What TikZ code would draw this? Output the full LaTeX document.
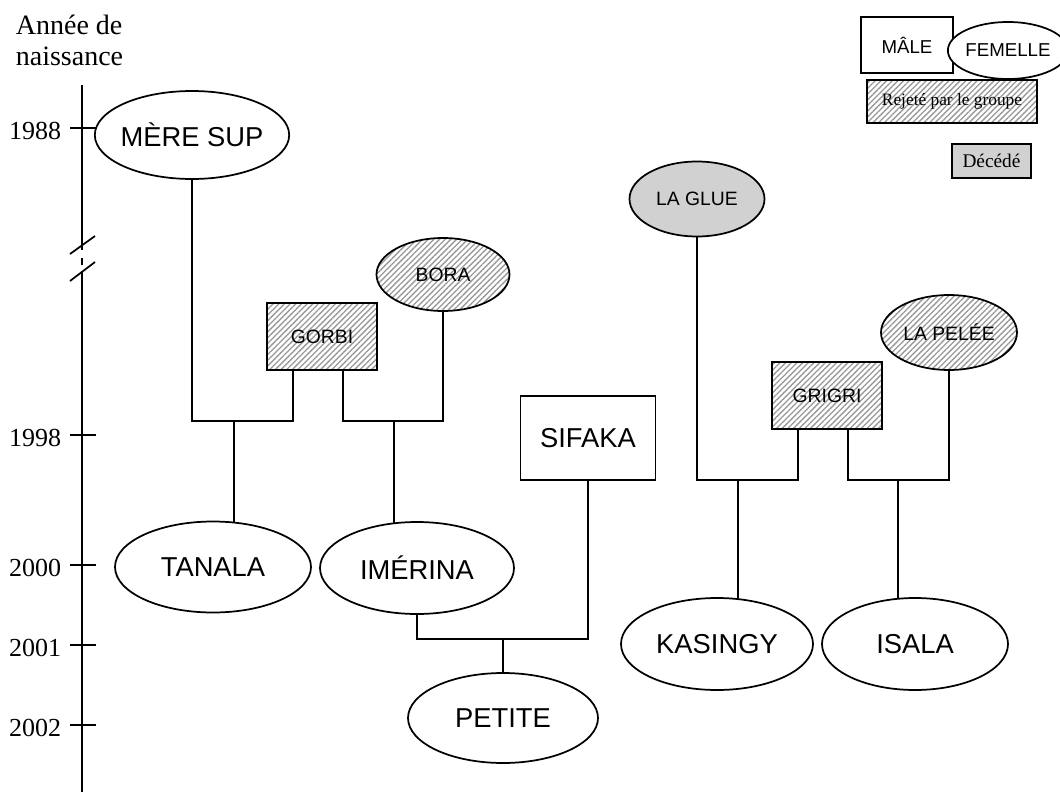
\documentclass[tikz,border=0pt]{standalone}
\usepackage{fontspec}
\setmainfont{Liberation Serif}
\setsansfont{Liberation Sans}
\usepackage{tikz}
\usetikzlibrary{positioning}
\usetikzlibrary{shapes.geometric}
\usetikzlibrary{patterns.meta}
\usetikzlibrary{calc}
\usetikzlibrary{backgrounds}

\tikzset{
  grand/.style={font=\sffamily\fontsize{20.5}{24}\selectfont},
  petit/.style={font=\sffamily\fontsize{14.5}{17}\selectfont},
  male/.style={draw, rectangle, fill=white, inner sep=0pt},
  femelle/.style={draw, ellipse, fill=white, inner sep=0pt},
  rejete/.style={preaction={fill=white}, fill=none,
    pattern={Lines[angle=45,distance=3pt,line width=1pt]}, pattern color=black!40},
  decede/.style={fill=black!18},
  lien/.style={line width=1.3pt},
}

\begin{document}
\begin{tikzpicture}[x=0.75pt, y=-0.75pt, line width=1.3pt]
\useasboundingbox (0,0) rectangle (1060,792);

% axe des annees
\node[anchor=north west, align=left, inner sep=0pt, font=\fontsize{21}{23}\selectfont] (titre) at (15,14) {Ann\'ee de\\naissance};
\draw (82,85) -- (82,250);
\draw (82,258) -- (82,265);
\draw (82,271) -- (82,792);
\draw (70,254) -- (95,236);
\draw (70,281) -- (95,262);
\foreach \yr/\y in {1988/128,1998/435,2000/565,2001/645,2002/725}{
  \draw (70,\y) -- (96,\y);
  \node[anchor=east, inner sep=0pt, font=\fontsize{19.5}{22}\selectfont] (an\yr) at (62,\y+3) {\yr};
}

% individus
\node[femelle, grand, inner xsep=-2pt, minimum width=139.5pt, minimum height=66pt] (meresup) at (192,135) {M\`ERE SUP};
\node[male, rejete, petit, minimum width=82.5pt, minimum height=50.25pt] (gorbi) at (322,336.5) {GORBI};
\node[femelle, rejete, petit, minimum width=99.75pt, minimum height=54.75pt] (bora) at (443,274.5) {BORA};
\node[femelle, grand, minimum width=147pt, minimum height=68.25pt] (tanala) at (213,567) {TANALA};
\node[femelle, grand, minimum width=145.5pt, minimum height=69pt] (imerina) at (417,568) {IM\'ERINA};
\node[male, grand, minimum width=101.25pt, minimum height=63pt] (sifaka) at (588,438) {SIFAKA};
\node[femelle, grand, minimum width=142.5pt, minimum height=67.5pt] (petite) at (503,718) {PETITE};
\node[femelle, decede, petit, minimum width=101.25pt, minimum height=56.25pt] (laglue) at (697,199) {LA GLUE};
\node[male, rejete, petit, minimum width=82.5pt, minimum height=50.25pt] (grigri) at (827,395.5) {GRIGRI};
\node[femelle, rejete, petit, minimum width=102pt, minimum height=56.25pt] (lapelee) at (949,332.5) {LA PEL\'EE};
\node[femelle, grand, minimum width=144pt, minimum height=69pt] (kasingy) at (717,644) {KASINGY};
\node[femelle, grand, minimum width=139.5pt, minimum height=69pt] (isala) at (915,644) {ISALA};

% legende
\node[male, font=\sffamily\fontsize{14}{16}\selectfont, minimum width=69pt, minimum height=42pt] (legmale) at (907,45) {M\^ALE};
\node[femelle, font=\sffamily\fontsize{14}{16}\selectfont, minimum width=76.5pt, minimum height=42.75pt] (legfem) at (1008,50.5) {FEMELLE};
\node[male, rejete, font=\fontsize{13}{15}\selectfont, minimum width=127.5pt, minimum height=32.25pt] (legrej) at (952,101.5) {Rejet\'e par le groupe};
\node[male, decede, font=\fontsize{14.5}{17}\selectfont, minimum width=59.25pt, minimum height=25.5pt] (legdec) at (991.5,161) {D\'ec\'ed\'e};

% liens de parente
\coordinate (j1) at (234,421);
\coordinate (j2) at (394,421);
\coordinate (j3) at (503,639);
\coordinate (j4) at (738,480);
\coordinate (j5) at (898,480);

\begin{scope}[on background layer={lien}]
\draw (meresup.south) |- (j1) -| ($(gorbi.south)+(-29,0)$);
\draw ($(gorbi.south)+(21,0)$) |- (j2) -| (bora.south);
\draw (imerina.south) |- (j3) -| (sifaka.south);
\draw (laglue.south) |- (j4) -| ($(grigri.south)+(-29,0)$);
\draw ($(grigri.south)+(21,0)$) |- (j5) -| (lapelee.south);
\draw (j1) -- (j1 |- tanala.center);
\draw (j2) -- (j2 |- imerina.center);
\draw (j3) -- (j3 |- petite.center);
\draw (j4) -- (j4 |- kasingy.center);
\draw (j5) -- (j5 |- isala.center);
\end{scope}
\end{tikzpicture}
\end{document}
